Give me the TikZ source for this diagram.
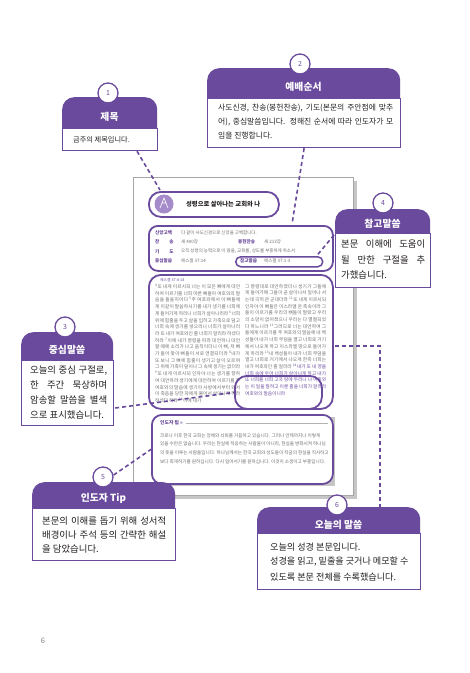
\documentclass[tikz,border=0pt]{standalone}
\usepackage{fontspec}
\setmainfont{Noto Sans CJK KR}
\usetikzlibrary{calc}
\XeTeXlinebreaklocale "ko"
\XeTeXlinebreakskip=0pt plus 1pt
\definecolor{purp}{HTML}{6A4A9C}
\definecolor{lav}{HTML}{A58BC9}
\definecolor{txt}{HTML}{231F20}
\definecolor{tinyg}{HTML}{6E6E6E}
\tikzset{
  hdrbox/.style={fill=purp, rounded corners=12pt, inner sep=0, anchor=north west},
  bodybox/.style={draw=purp, line width=1.2pt, fill=white, inner sep=0, anchor=north west},
  hdrtitle/.style={text=white, font=\bfseries\fontsize{9.8}{11}\selectfont, inner sep=0},
  bodytxt/.style={text=txt, font=\fontsize{9.4}{10}\selectfont, inner sep=0, anchor=west},
  numc/.style={circle, draw=purp, line width=1.3pt, fill=white, minimum size=20pt, inner sep=0, text=purp, font=\fontsize{7}{8}\selectfont},
  conn/.style={purp, line width=1.6pt, dash pattern=on 4pt off 3pt},
  frame/.style={draw=purp, line width=1.8pt, inner sep=0, anchor=north west},
  lbl/.style={text=purp, font=\bfseries\fontsize{4.6}{5}\selectfont, inner sep=0, anchor=west},
  val/.style={text=tinyg, font=\fontsize{4.5}{5}\selectfont, inner sep=0, anchor=west},
  tinytxt/.style={text=tinyg, font=\fontsize{4.6}{5}\selectfont, inner sep=0, anchor=west},
  coltxt/.style={text=tinyg, font=\fontsize{4.7}{6.7}\selectfont, inner sep=0, anchor=north west, align=justify}
}
\begin{document}
\begin{tikzpicture}[x=1pt,y=-1pt]
\useasboundingbox (0,0) rectangle (470,673);
\fill[white] (0,0) rectangle (470,673);

% ---------- miniature page ----------
\fill[gray!45] (137,181) rectangle (357,499);
\node[draw=gray!70, line width=0.6pt, fill=white, minimum width=220pt, minimum height=318pt, inner sep=0, anchor=north west] (page) at (133,177) {};

% title pill
\node[frame, rounded corners=12pt, minimum width=130pt, minimum height=25pt] (pill) at (148,191) {};
\node[circle, fill=lav, minimum size=19pt, inner sep=0] (icon) at (164,204) {};
\draw[white, line width=0.6pt] (160,208) -- (164,198) -- (168,208) (162,203) -- (166,203);
\node[inner sep=0, anchor=west, text=txt, font=\bfseries\fontsize{6.3}{7}\selectfont] (ptitle) at (186,204) {성령으로 살아나는 교회와 나};

% info box
\node[frame, rounded corners=9pt, minimum width=184pt, minimum height=45pt] (info) at (148,225) {};
\node[lbl] (l1) at (155,232.5) {신앙고백};
\node[val] (v1) at (181,232.5) {다 같이 사도신경으로 신앙을 고백합니다.};
\node[lbl] (l2) at (155,242) {\makebox[18.4pt][s]{찬 송}};
\node[val] (v2) at (181,242) {새 400장};
\node[lbl] (l2b) at (238,242) {봉헌찬송};
\node[val] (v2b) at (264,242) {새 213장};
\node[lbl] (l3) at (155,251.5) {\makebox[18.4pt][s]{기 도}};
\node[val] (v3) at (181,251.5) {오직 성령의 능력으로 이 땅을, 교회를, 성도를 부흥하게 하소서};
\node[lbl] (l4) at (155,261) {중심말씀};
\node[val] (v4) at (181,261) {에스겔 37:14};
\node[draw=purp, line width=1.5pt, rounded corners=5pt, minimum width=87pt, minimum height=10pt, inner sep=0, anchor=north west] (refp) at (235,256) {};
\node[lbl] (l4b) at (240,261) {참고말씀};
\node[val] (v4b) at (264,261) {에스겔 37:1-3};

% main text box
\node[frame, rounded corners=12pt, minimum width=184pt, minimum height=134pt] (mtext) at (148,274) {};
\node[inner sep=0, anchor=west, text=purp, font=\fontsize{3.8}{4}\selectfont] (mhead) at (160,280) {에스겔 37:4-14};
\begin{scope}
\clip (150,283) rectangle (330,411);
\node[coltxt, text width=85pt] (col1) at (155,284) {\textsuperscript{4}또 내게 이르시되 너는 이 모든 뼈에게 대언하여 이르기를 너희 마른 뼈들아 여호와의 말씀을 들을지어다 \textsuperscript{5}주 여호와께서 이 뼈들에게 이같이 말씀하시기를 내가 생기를 너희에게 들어가게 하리니 너희가 살아나리라 \textsuperscript{6}너희 위에 힘줄을 두고 살을 입히고 가죽으로 덮고 너희 속에 생기를 넣으리니 너희가 살아나리라 또 내가 여호와인 줄 너희가 알리라 하셨다 하라 \textsuperscript{7}이에 내가 명령을 따라 대언하니 대언할 때에 소리가 나고 움직이더니 이 뼈, 저 뼈가 들어 맞아 뼈들이 서로 연결되더라 \textsuperscript{8}내가 또 보니 그 뼈에 힘줄이 생기고 살이 오르며 그 위에 가죽이 덮이나 그 속에 생기는 없더라 \textsuperscript{9}또 내게 이르시되 인자야 너는 생기를 향하여 대언하라 생기에게 대언하여 이르기를 주 여호와의 말씀에 생기야 사방에서부터 와서 이 죽음을 당한 자에게 불어서 살아나게 하라 하셨다 하라 \textsuperscript{10}이에 내가};
\node[coltxt, text width=81pt] (col2) at (245,284) {그 명령대로 대언하였더니 생기가 그들에게 들어가매 그들이 곧 살아나서 일어나 서는데 극히 큰 군대더라 \textsuperscript{11}또 내게 이르시되 인자야 이 뼈들은 이스라엘 온 족속이라 그들이 이르기를 우리의 뼈들이 말랐고 우리의 소망이 없어졌으니 우리는 다 멸절되었다 하느니라 \textsuperscript{12}그러므로 너는 대언하여 그들에게 이르기를 주 여호와의 말씀에 내 백성들아 내가 너희 무덤을 열고 너희로 거기에서 나오게 하고 이스라엘 땅으로 들어가게 하리라 \textsuperscript{13}내 백성들아 내가 너희 무덤을 열고 너희로 거기에서 나오게 한즉 너희는 내가 여호와인 줄 알리라 {\color{purp}\textsuperscript{14}내가 또 내 영을 너희 속에 두어 너희가 살아나게 하고 내가 또 너희를 너희 고국 땅에 두리니 나 여호와는 이 일을 말하고 이룬 줄을 너희가 알리라 여호와의 말씀이니라}};
\end{scope}
\node[frame, rounded corners=12pt, minimum width=87pt, minimum height=33pt] (hl) at (234,375) {};

% leader tip box
\fill[gray!45] (154,417) rectangle (335,486);
\node[frame, fill=white, rounded corners=10pt, minimum width=181pt, minimum height=69pt] (tip) at (151,414) {};
\node[inner sep=0, anchor=west, text=purp, font=\bfseries\fontsize{4.8}{5}\selectfont] (tiphead) at (160,423) {인도자 팁 >>};
\draw[gray!60, line width=0.4pt] (tiphead.east) ++(3,0) -- ($(tip.north east)+(-6,9)$);
\begin{scope}
\clip (153,428) rectangle (329,481);
\node[tinytxt] (t1) at (160,436) {코로나 이후 한국 교회는 정체와 쇠퇴를 거듭하고 있습니다. 그러나 언제까지나 이렇게};
\node[tinytxt] (t2) at (160,444.5) {있을 수만은 없습니다. 우리는 현실에 적응하는 사람들이 아니라, 현실을 변화시켜 하나님};
\node[tinytxt] (t3) at (160,453) {의 뜻을 이루는 사람들입니다. 하나님께서는 한국 교회와 성도들이 작금의 현실을 직시하고};
\node[tinytxt] (t4) at (160,461.5) {보다 회개하기를 원하십니다. 다시 일어서기를 원하십니다. 이것이 소생이고 부흥입니다.};
\end{scope}

% ---------- callout 1 ----------
\node[hdrbox, minimum width=95pt, minimum height=45pt] (h1) at (62,97) {};
\node[bodybox, minimum width=95pt, minimum height=22pt] (b1) at (62,128) {};
\node[hdrtitle] (ht1) at (109.5,117) {제목};
\node[bodytxt, font=\fontsize{7.2}{8}\selectfont] (bt1) at (73,139.5) {금주의 제목입니다.};
\node[numc] (n1) at (108,93) {1};

% ---------- callout 2 ----------
\node[hdrbox, minimum width=193pt, minimum height=44pt] (h2) at (207,68) {};
\node[bodybox, minimum width=193pt, minimum height=49pt] (b2) at (207,98) {};
\node[hdrtitle] (ht2) at (303.5,87) {예배순서};
\node[bodytxt, font=\fontsize{7.8}{9}\selectfont] (bt2a) at (218,108.5) {\makebox[175pt][s]{사도신경, 찬송(봉헌찬송), 기도(본문의 주안점에 맞추}};
\node[bodytxt, font=\fontsize{7.8}{9}\selectfont] (bt2b) at (218,122) {\makebox[175pt][s]{어), 중심말씀입니다. 정해진 순서에 따라 인도자가 모}};
\node[bodytxt, font=\fontsize{7.8}{9}\selectfont] (bt2c) at (218,135.5) {임을 진행합니다.};
\node[numc] (n2) at (300,64) {2};

% ---------- callout 4 ----------
\node[hdrbox, minimum width=95pt, minimum height=38pt] (h4) at (335,209) {};
\node[bodybox, minimum width=95pt, minimum height=54pt] (b4) at (335,233) {};
\node[hdrtitle] (ht4) at (382.5,224) {참고말씀};
\node[bodytxt] (bt4a) at (341,244) {\makebox[84pt][s]{본문 이해에 도움이}};
\node[bodytxt] (bt4b) at (341,259.5) {\makebox[84pt][s]{될 만한 구절을 추}};
\node[bodytxt] (bt4c) at (341,275) {가했습니다.};
\node[numc] (n4) at (383,203) {4};

% ---------- callout 3 ----------
\node[hdrbox, minimum width=92pt, minimum height=42pt] (h3) at (21,332) {};
\node[bodybox, minimum width=92pt, minimum height=65pt] (b3) at (21,360) {};
\node[hdrtitle] (ht3) at (67,350) {중심말씀};
\node[bodytxt] (bt3a) at (30,370.5) {\makebox[77pt][s]{오늘의 중심 구절로,}};
\node[bodytxt] (bt3b) at (30,385) {\makebox[77pt][s]{한 주간 묵상하며}};
\node[bodytxt] (bt3c) at (30,400) {\makebox[77pt][s]{암송할 말씀을 별색}};
\node[bodytxt] (bt3d) at (30,414.5) {으로 표시했습니다.};
\node[numc] (n3) at (65,327) {3};

% ---------- callout 5 ----------
\node[hdrbox, minimum width=143pt, minimum height=40pt] (h5) at (32,482) {};
\node[bodybox, minimum width=143pt, minimum height=52pt] (b5) at (32,508) {};
\node[hdrtitle] (ht5) at (103.5,498) {인도자 Tip};
\node[bodytxt] (bt5a) at (42,520.5) {\makebox[124pt][s]{본문의 이해를 돕기 위해 성서적}};
\node[bodytxt] (bt5b) at (42,534.5) {\makebox[124pt][s]{배경이나 주석 등의 간략한 해설}};
\node[bodytxt] (bt5c) at (42,548.5) {을 담았습니다.};
\node[numc] (n5) at (103,477) {5};

% ---------- callout 6 ----------
\node[hdrbox, minimum width=163pt, minimum height=40pt] (h6) at (257,507) {};
\node[bodybox, minimum width=163pt, minimum height=56pt] (b6) at (257,533) {};
\node[hdrtitle] (ht6) at (338.5,525) {오늘의 말씀};
\node[bodytxt, font=\fontsize{9.1}{10}\selectfont] (bt6a) at (270,547) {오늘의 성경 본문입니다.};
\node[bodytxt, font=\fontsize{9.1}{10}\selectfont] (bt6b) at (270,562) {성경을 읽고, 밑줄을 긋거나 메모할 수};
\node[bodytxt, font=\fontsize{9.1}{10}\selectfont] (bt6c) at (270,577) {있도록 본문 전체를 수록했습니다.};
\node[numc] (n6) at (337,505) {6};

% ---------- connectors ----------
\draw[conn] ($(b1.south west)+(75,0)$) -- ($(pill.north west)+(12,-1)$);
\draw[conn] (b2.south) -- ($(info.north west)+(144,-1)$);
\draw[conn] ($(b4.north west)+(-1,2)$) -- ($(refp.north east)+(-7,0)$);
\draw[conn] ($(b3.north east)+(1,48)$) -- (hl.west);
\draw[conn] ($(mtext.north east)+(1,72)$) -| ($(h6.north west)+(123,0)$);
\draw[conn] ($(n5.east)+(0,-2)$) -- (tip.west);

% page number
\node[inner sep=0, text=gray, font=\fontsize{7.5}{8}\selectfont] (pgno) at (43,641) {6};
\end{tikzpicture}
\end{document}
